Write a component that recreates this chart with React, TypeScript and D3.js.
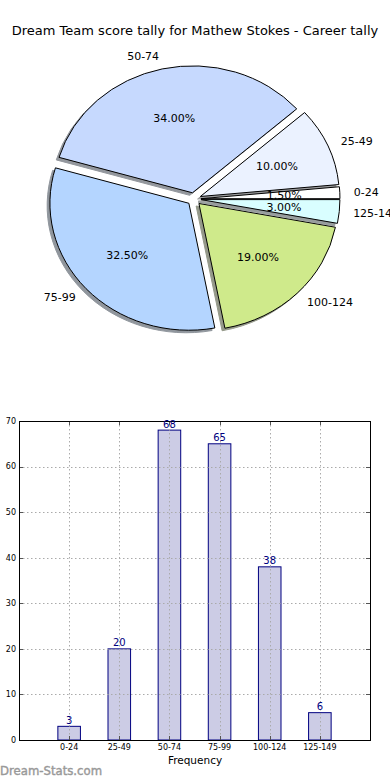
import React from "react";
import * as d3 from "d3";

const categories = ["0-24", "25-49", "50-74", "75-99", "100-124", "125-149"];
const counts = [3, 20, 68, 65, 38, 6];
const pieColors = ["#FFFFFF", "#EBF2FF", "#C6D9FE", "#B4D5FF", "#CFEA8B", "#D9FEFF"];
const yTicks = [0, 10, 20, 30, 40, 50, 60, 70];

const W = 390;
const H = 780;

function shadowColor(c: string) {
  const rgb = d3.rgb(c);
  const a = 0.55;
  const r = 0.3 * rgb.r, g = 0.3 * rgb.g, b = 0.3 * rgb.b;
  return d3.rgb(r * a + 255 * (1 - a), g * a + 255 * (1 - a), b * a + 255 * (1 - a)).formatHex();
}

export default function App() {
  React.useEffect(() => {
    document.body.style.margin = "0";
  }, []);

  // Pie geometry (elliptical, matplotlib non-equal axes)
  const cx = 194, cy = 199, rx = 139, ry = 127;
  const explode = 0.05;
  const total = d3.sum(counts);
  const pie = d3
    .pie<number>()
    .sort(null)
    .value((d) => d)
    .startAngle(Math.PI / 2)
    .endAngle(Math.PI / 2 - 2 * Math.PI);
  const arcs = pie(counts);
  const arc = d3.arc<any>().innerRadius(0).outerRadius(1);

  // Bar chart geometry
  const left = 19, right = 370, top = 421, bottom = 740;
  const x = d3.scaleLinear().domain([-1, 6]).range([left, right]);
  const y = d3.scaleLinear().domain([0, 70]).range([bottom, top]);
  const barW = 0.45;
  const font = "DejaVu Sans, sans-serif";

  return (
    <svg width={W} height={H} style={{ display: "block", position: "absolute", left: 0, top: 0 }} fontFamily={font}>
      <rect width={W} height={H} fill="#fff" />
      <text x={195} y={34.5} textAnchor="middle" fontSize={13} fill="#000">
        Dream Team score tally for Mathew Stokes - Career tally
      </text>

      {/* Pie shadows */}
      <g transform={`translate(${cx},${cy}) scale(${rx},${ry})`}>
        {arcs.map((a, i) => {
          const mid = (a.startAngle + a.endAngle) / 2;
          const ox = explode * Math.sin(mid) - 0.02;
          const oy = -explode * Math.cos(mid) + 0.02;
          return (
            <path
              key={"s" + i}
              d={arc(a) as string}
              transform={`translate(${ox},${oy})`}
              fill={shadowColor(pieColors[i])}
              stroke={shadowColor(pieColors[i])}
              strokeWidth={1}
              vectorEffect="non-scaling-stroke"
            />
          );
        })}
        {arcs.map((a, i) => {
          const mid = (a.startAngle + a.endAngle) / 2;
          const ox = explode * Math.sin(mid);
          const oy = -explode * Math.cos(mid);
          return (
            <path
              key={"w" + i}
              d={arc(a) as string}
              transform={`translate(${ox},${oy})`}
              fill={pieColors[i]}
              stroke="#000"
              strokeWidth={1}
              vectorEffect="non-scaling-stroke"
              strokeLinejoin="round"
            />
          );
        })}
      </g>
      {arcs.map((a, i) => {
        const mid = (a.startAngle + a.endAngle) / 2;
        const ux = Math.sin(mid), uy = -Math.cos(mid);
        const lx = cx + (1.1 + explode) * rx * ux;
        const ly = cy + (1.1 + explode) * ry * uy;
        const px = cx + (0.6 + explode) * rx * ux;
        const py = cy + (0.6 + explode) * ry * uy;
        return (
          <g key={"l" + i}>
            <text x={lx} y={ly} dy="0.36em" fontSize={11} textAnchor={ux > 0 ? "start" : "end"} fill="#000">
              {categories[i]}
            </text>
            <text x={px} y={py} dy="0.36em" fontSize={11} textAnchor="middle" fill="#000">
              {((counts[i] / total) * 100).toFixed(2) + "%"}
            </text>
          </g>
        );
      })}

      {/* Bar chart */}
      <rect x={left} y={top} width={right - left} height={bottom - top} fill="#fff" />
      {counts.map((v, i) => (
        <rect
          key={"b" + i}
          x={x(i - barW / 2)}
          y={y(v)}
          width={x(barW) - x(0)}
          height={y(0) - y(v)}
          fill="#CCCCE5"
          stroke="#000080"
          strokeWidth={1}
        />
      ))}
      {/* grid */}
      {yTicks.slice(1, -1).map((t) => (
        <line key={"gy" + t} x1={left} x2={right} y1={Math.round(y(t)) + 0.5} y2={Math.round(y(t)) + 0.5} stroke="#aaa" strokeDasharray="1.5,2.5" />
      ))}
      {categories.map((c, i) => (
        <line key={"gx" + i} x1={Math.round(x(i)) + 0.5} x2={Math.round(x(i)) + 0.5} y1={top} y2={bottom} stroke="#aaa" strokeDasharray="1.5,2.5" />
      ))}
      {/* ticks */}
      {yTicks.map((t) => (
        <g key={"ty" + t}>
          <line x1={left} x2={left + 4} y1={Math.round(y(t)) + 0.5} y2={Math.round(y(t)) + 0.5} stroke="#555" />
          <line x1={right - 4} x2={right} y1={Math.round(y(t)) + 0.5} y2={Math.round(y(t)) + 0.5} stroke="#555" />
          <text x={left - 3} y={y(t)} dy="0.35em" fontSize={8} textAnchor="end" fill="#000">
            {t}
          </text>
        </g>
      ))}
      {categories.map((c, i) => (
        <g key={"tx" + i}>
          <line x1={Math.round(x(i)) + 0.5} x2={Math.round(x(i)) + 0.5} y1={bottom} y2={bottom - 4} stroke="#555" />
          <line x1={Math.round(x(i)) + 0.5} x2={Math.round(x(i)) + 0.5} y1={top} y2={top + 4} stroke="#555" />
          <text x={x(i)} y={bottom + 10} fontSize={8} textAnchor="middle" fill="#000">
            {c}
          </text>
        </g>
      ))}
      <rect x={left + 0.5} y={top + 0.5} width={right - left} height={bottom - top} fill="none" stroke="#000" strokeWidth={1} />
      {counts.map((v, i) => (
        <text key={"v" + i} x={x(i)} y={y(v) - 2.5} fontSize={10} textAnchor="middle" fill="#000080">
          {v}
        </text>
      ))}
      <text x={195} y={764} fontSize={10.5} textAnchor="middle" fill="#000">
        Frequency
      </text>
      <text x={0} y={775} fontSize={11.7} fill="#999" stroke="#999" strokeWidth={0.4}>
        Dream-Stats.com
      </text>
    </svg>
  );
}
